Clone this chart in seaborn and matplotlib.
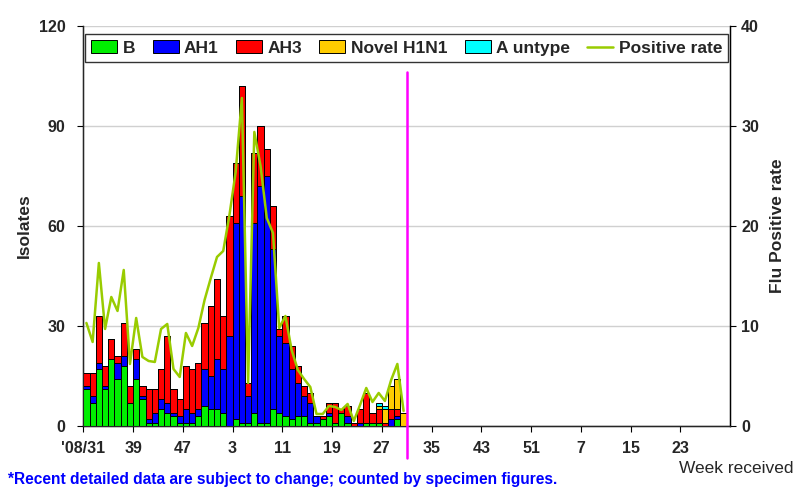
import numpy as np
import pandas as pd
import seaborn as sns
import matplotlib
matplotlib.use("Agg")
import matplotlib.pyplot as plt
from matplotlib.patches import Patch
from matplotlib.lines import Line2D

# weekly isolates, '08 week 31 through '09 week 30
b_cnt = [11, 7, 17, 11, 20, 14, 18, 7, 14, 8, 1, 1, 5,
         4, 3, 1, 1, 1, 3, 6, 5, 5, 4, 0, 2, 1,
         1, 4, 1, 1, 5, 4, 3, 2, 3, 3, 1, 1, 2,
         3, 1, 4, 1, 0, 0, 1, 1, 1, 0, 0, 2, 0]
ah1_cnt = [1, 2, 2, 1, 0, 5, 3, 0, 6, 1, 1, 3, 3,
           3, 1, 2, 4, 3, 2, 11, 10, 15, 13, 27, 59, 68,
           8, 57, 71, 74, 48, 23, 22, 15, 10, 6, 6, 2, 0,
           1, 0, 0, 2, 0, 1, 0, 0, 0, 0, 2, 1, 0]
ah3_cnt = [4, 7, 14, 6, 6, 2, 10, 5, 3, 3, 9, 7, 9,
           20, 7, 5, 13, 13, 14, 14, 21, 24, 16, 36, 18, 33,
           4, 21, 18, 8, 13, 2, 8, 7, 5, 3, 3, 0, 1,
           3, 6, 1, 3, 1, 4, 9, 3, 4, 1, 3, 2, 0]
novel_cnt = [0] * 47 + [1, 4, 7, 9, 4]
untype_cnt = [0] * 47 + [1, 1, 0, 0, 0]
pos_rate = [10.3, 8.4, 16.3, 9.7, 12.9, 11.5, 15.6, 6.2, 10.8, 6.9, 6.5, 6.4, 9.7,
            10.2, 5.7, 4.9, 9.3, 8.0, 9.8, 12.6, 14.8, 16.9, 17.5, 21.1, 25.4, 32.8,
            4.3, 29.4, 26.0, 20.8, 19.3, 9.8, 11.0, 7.6, 5.6, 4.7, 3.9, 1.2, 1.2,
            2.0, 1.9, 1.6, 2.2, 0.5, 2.1, 3.8, 2.4, 3.3, 2.5, 4.6, 6.2, 1.5]

n_weeks = 104
tick_labels = ["'08/31", "39", "47", "3", "11", "19", "27", "35", "43", "51", "7", "15", "23"]

series = [("B", b_cnt, "#00ee00"),
          ("AH1", ah1_cnt, "#0000ff"),
          ("AH3", ah3_cnt, "#ff0000"),
          ("Novel H1N1", novel_cnt, "#ffcc00"),
          ("A untype", untype_cnt, "#00ffff")]
line_col = "#99cc00"

sns.set_style("white")
plt.rcParams["font.family"] = ["Liberation Sans", "DejaVu Sans"]

fig = plt.figure(figsize=(7.95, 4.87), dpi=100)
ax = fig.add_axes([0.1048, 0.1253, 0.8135, 0.8214])

df = pd.DataFrame({"x": np.arange(len(b_cnt)) + 0.5, "rate": pos_rate})
bottom = np.zeros(len(b_cnt))
for name, vals, col in series:
    vals = np.array(vals, dtype=float)
    ax.bar(df["x"], vals, width=1.0, bottom=bottom, color=col,
           edgecolor="black", linewidth=0.7, zorder=3)
    bottom += vals

ax.set_xlim(0, n_weeks)
ax.set_ylim(0, 120)
ax.set_yticks([0, 30, 60, 90, 120])
ax.set_xticks(np.arange(0, n_weeks, 8))
ax.set_xticklabels(tick_labels)
ax.yaxis.grid(True, color="#d0d0d0", linewidth=1, zorder=0)
ax.set_axisbelow(True)
for s in ["left", "bottom", "right"]:
    ax.spines[s].set_color("black")
    ax.spines[s].set_linewidth(1)
ax.spines["top"].set_visible(False)
ax.tick_params(axis="both", labelsize=11.5, length=4, direction="out", color="black",
               bottom=True, left=True)
ax.tick_params(axis="y", pad=9)
ax.tick_params(axis="x", pad=7)
for t in ax.get_xticklabels() + ax.get_yticklabels():
    t.set_fontweight("bold")
ax.set_ylabel("Isolates", fontsize=12.5, fontweight="bold", labelpad=5)

ax2 = ax.twinx()
sns.lineplot(data=df, x="x", y="rate", ax=ax2, color=line_col, linewidth=1.8, zorder=4)
ax2.set_ylim(0, 40)
ax2.set_yticks([0, 10, 20, 30, 40])
ax2.set_xlim(0, n_weeks)
ax2.spines["top"].set_visible(False)
ax2.spines["right"].set_color("black")
ax2.tick_params(axis="y", labelsize=11.5, length=4, direction="out", color="black", right=True, pad=4)
for t in ax2.get_yticklabels():
    t.set_fontweight("bold")
ax2.set_ylabel("Flu Positive rate", fontsize=12.5, fontweight="bold", labelpad=8)
ax2.set_xlabel("")

# current-week marker
ax2.plot([52, 52], [-0.08, 0.885], color="#ff00ff", linewidth=1.8,
         transform=ax2.get_xaxis_transform(), clip_on=False, zorder=5)

handles = [Patch(facecolor=c, edgecolor="black", linewidth=0.7, label=n) for n, _, c in series]
handles.append(Line2D([0], [0], color=line_col, linewidth=1.8, label="Positive rate"))
leg = ax2.legend(handles=handles, loc="lower left", bbox_to_anchor=(0.003, 0.91, 0.994, 0.08),
                 mode="expand", ncol=6, frameon=True, fancybox=False, borderaxespad=0,
                 prop={"weight": "bold", "size": 12.5}, handlelength=1.5, handleheight=0.8,
                 handletextpad=0.3, columnspacing=1.0, borderpad=0.35)
leg.get_frame().set_edgecolor("black")
leg.get_frame().set_linewidth(1)

fig.text(0.998, 0.038, "Week received", ha="right", va="center", fontsize=12.5)
fig.text(0.01, 0.016, "*Recent detailed data are subject to change; counted by specimen figures.",
         ha="left", va="center", fontsize=11.2, fontweight="bold", color="#0000ff")

fig.savefig("out.png", dpi=100)
